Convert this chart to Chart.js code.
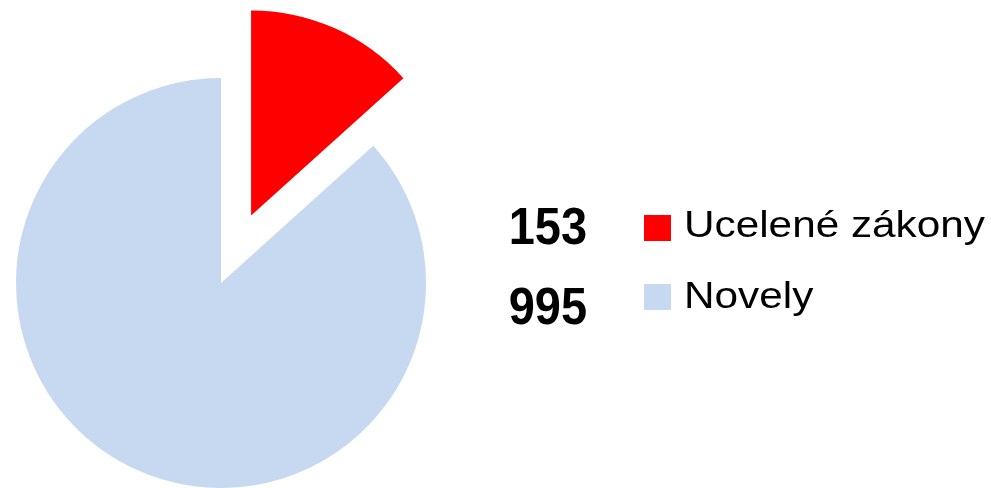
<!DOCTYPE html>
<html>
<head>
<meta charset="utf-8">
<script src="https://cdn.jsdelivr.net/npm/chart.js@4/dist/chart.umd.min.js"></script>
<style>
  html, body { margin: 0; padding: 0; background: #fff; overflow: hidden; }
  #wrap { position: relative; width: 991px; height: 488px; }
  canvas { position: absolute; left: 0; top: 0; }
  .num { position: absolute; font-family: "Liberation Sans", Arial, sans-serif; font-weight: bold;
         font-size: 51px; line-height: 51px; color: #000; white-space: nowrap; text-align: right;
         width: 120px; transform: scaleX(0.92); transform-origin: right center; }
  .lbl { position: absolute; font-family: "Liberation Sans", Arial, sans-serif;
         font-size: 36px; line-height: 36px; color: #000; white-space: nowrap;
         transform: scaleX(1.175); transform-origin: left center; }
  .sw { position: absolute; width: 27px; height: 26px; }
</style>
</head>
<body>
<div id="wrap">
  <canvas id="base" width="991" height="488"></canvas>
  <canvas id="explode" width="991" height="488"></canvas>
</div>
<script>
const categories = ["Ucelené zákony", "Novely"];
const values = [153, 995];
const colors = ["#FF0000", "#C6D9F1"];
const exploded = [true, false];

const wrap = document.getElementById('wrap');
const numTops = [201, 281];
const lblTops = [207, 278];
const swTops = [215, 284];
categories.forEach((c, i) => {
  const n = document.createElement('div');
  n.className = 'num';
  n.textContent = String(values[i]);
  n.style.left = (587 - 120) + 'px';
  n.style.top = numTops[i] + 'px';
  wrap.appendChild(n);
  const s = document.createElement('div');
  s.className = 'sw';
  s.style.left = '644px';
  s.style.top = swTops[i] + 'px';
  s.style.background = colors[i];
  wrap.appendChild(s);
  const l = document.createElement('div');
  l.className = 'lbl';
  l.textContent = c;
  l.style.left = '684px';
  l.style.top = lblTops[i] + 'px';
  wrap.appendChild(l);
});

const R = 205;        // pie radius in px
const SHIFT = 74;     // explode distance in px
const PAD = { left: 0, right: 549, top: 78, bottom: 0 };

function makePie(canvasId, bg, pad) {
  return new Chart(document.getElementById(canvasId), {
    type: 'pie',
    data: {
      labels: categories,
      datasets: [{
        data: values,
        backgroundColor: bg,
        borderWidth: 0,
        hoverOffset: 0,
        radius: R,
        clip: false
      }]
    },
    options: {
      responsive: false,
      animation: false,
      events: [],
      layout: { padding: pad },
      plugins: { legend: { display: false }, tooltip: { enabled: false } }
    }
  });
}

// base pie: non-exploded slices
makePie('base', colors.map((c, i) => exploded[i] ? 'rgba(0,0,0,0)' : c), PAD);

// exploded slice: same pie, drawn with its centre moved outward along the slice's mid angle
const total = values.reduce((a, b) => a + b, 0);
const idx = exploded.indexOf(true);
let before = 0;
for (let i = 0; i < idx; i++) before += values[i];
const mid = 2 * Math.PI * (before + values[idx] / 2) / total;
const dx = SHIFT * Math.sin(mid), dy = -SHIFT * Math.cos(mid);
makePie('explode', colors.map((c, i) => exploded[i] ? c : 'rgba(0,0,0,0)'), {
  left: PAD.left + dx, right: PAD.right - dx, top: PAD.top + dy, bottom: PAD.bottom - dy
});
</script>
</body>
</html>
